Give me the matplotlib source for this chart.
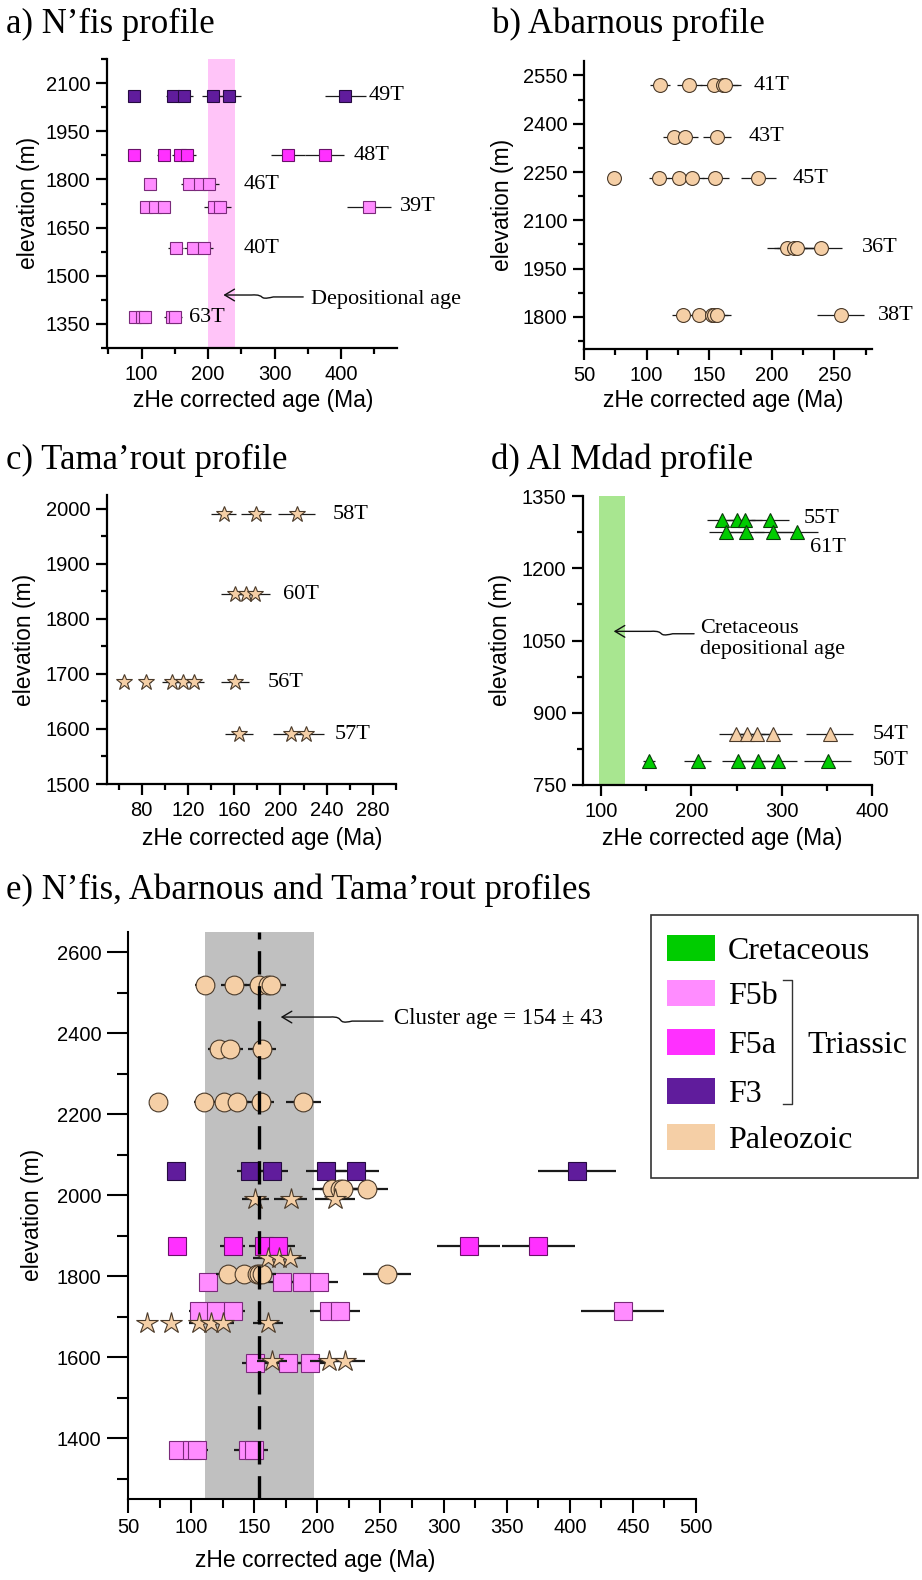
import numpy as np
import matplotlib
matplotlib.use('Agg')
import matplotlib.pyplot as plt
from matplotlib.ticker import MultipleLocator
from matplotlib.patches import Rectangle, FancyArrowPatch
from matplotlib.path import Path
from matplotlib.lines import Line2D

plt.rcParams['font.family'] = ['Liberation Sans', 'DejaVu Sans']
SERIF = ['Liberation Serif', 'DejaVu Serif']

W, H = 922.0, 1580.0

# colours of the units
UNIT_FILL = {'Cretaceous': '#00cc00', 'F5b': '#ff8cff', 'F5a': '#ff30ff',
             'F3': '#601c9c', 'Paleozoic': '#f5cfa6'}
UNIT_EDGE = {'Cretaceous': '#0b3d0b', 'F5b': '#7a2a7a', 'F5a': '#6a106a',
             'F3': '#250a40', 'Paleozoic': '#4a3a2a'}

# ---- a) N'fis profile (squares)
nfis_samples = ['49T', '48T', '46T', '39T', '40T', '63T']
nfis_elev = [2060, 1875, 1785, 1715, 1585, 1370]
nfis_unit = ['F3', 'F5a', 'F5b', 'F5b', 'F5b', 'F5b']
nfis_age = [
    [88, 147, 164, 207, 231, 406],
    [89, 133, 158, 169, 320, 375],
    [113, 172, 188, 201],
    [106, 120, 133, 209, 218, 442],
    [151, 177, 194],
    [90, 101, 105, 145, 150],
]
nfis_err = [
    [5, 11, 13, 16, 18, 31],
    [5, 10, 12, 13, 25, 29],
    [6, 13, 14, 15],
    [8, 9, 10, 15, 16, 33],
    [11, 13, 14],
    [7, 8, 8, 11, 11],
]
depositional_band = (200, 240)

# ---- b) Abarnous profile (circles)
abar_samples = ['41T', '43T', '45T', '36T', '38T']
abar_elev = [2520, 2360, 2230, 2015, 1805]
abar_unit = ['Paleozoic'] * 5
abar_age = [
    [111, 134, 154, 161, 163],
    [122, 131, 156],
    [74, 110, 126, 136, 155, 189],
    [212, 218, 220, 239],
    [129, 142, 152, 154, 156, 255],
]
abar_err = [
    [8, 10, 11, 12, 12],
    [9, 10, 11],
    [4, 8, 9, 10, 11, 14],
    [16, 16, 16, 17],
    [9, 10, 11, 11, 11, 19],
]

# ---- c) Tama'rout profile (stars)
tama_samples = ['58T', '60T', '56T', '57T']
tama_elev = [1990, 1845, 1685, 1590]
tama_unit = ['Paleozoic'] * 4
tama_age = [
    [151, 179, 214],
    [161, 170, 178],
    [65, 84, 106, 116, 125, 161],
    [164, 209, 222],
]
tama_err = [
    [11, 13, 16],
    [12, 12, 13],
    [3, 4, 8, 9, 9, 12],
    [12, 15, 16],
]

# ---- d) Al Mdad profile (triangles)
mdad_samples = ['55T', '61T', '54T', '50T']
mdad_elev = [1300, 1275, 855, 800]
mdad_unit = ['Cretaceous', 'Cretaceous', 'Paleozoic', 'Cretaceous']
mdad_age = [
    [234, 251, 259, 287],
    [238, 261, 290, 317],
    [249, 262, 273, 290, 353],
    [153, 207, 252, 274, 296, 351],
]
mdad_err = [
    [17, 19, 19, 21],
    [18, 19, 21, 23],
    [18, 19, 20, 21, 26],
    [7, 15, 18, 20, 21, 26],
]
cretaceous_band = (98, 126)

# ---- e) cluster age
cluster_age = 154
cluster_err = 43

legend_units = ['Cretaceous', 'F5b', 'F5a', 'F3', 'Paleozoic']


def fx(x):
    return x / W


def fy(y):
    return 1 - y / H


fig = plt.figure(figsize=(9.22, 15.8), dpi=100)


def add_ax(left, top, right, bottom):
    return fig.add_axes([fx(left), fy(bottom), (right - left) / W, (bottom - top) / H])


def style(ax, xlim, ylim, xmaj, xmin, ymaj, ymin, lw=1.6, fs=14.5,
          xlen=(8, 4), ylen=(8, 4)):
    ax.set_xlim(*xlim)
    ax.set_ylim(*ylim)
    for s in ('top', 'right'):
        ax.spines[s].set_visible(False)
    for s in ('left', 'bottom'):
        ax.spines[s].set_linewidth(lw)
    ax.xaxis.set_major_locator(MultipleLocator(xmaj))
    ax.xaxis.set_minor_locator(MultipleLocator(xmin))
    ax.yaxis.set_major_locator(MultipleLocator(ymaj))
    ax.yaxis.set_minor_locator(MultipleLocator(ymin))
    ax.tick_params(which='both', direction='out', width=lw, labelsize=fs, pad=4)
    ax.tick_params(axis='x', which='major', length=xlen[0])
    ax.tick_params(axis='x', which='minor', length=xlen[1])
    ax.tick_params(axis='y', which='major', length=ylen[0])
    ax.tick_params(axis='y', which='minor', length=ylen[1])


def plot_profile(ax, ages, errs, elevs, units, marker, ms, elw, zo):
    for a, e, z, u in zip(ages, errs, elevs, units):
        yy = np.full(len(a), z, dtype=float)
        ax.errorbar(a, yy, xerr=e, fmt='none', ecolor='#1a1a1a',
                    elinewidth=elw, capsize=0, zorder=zo)
        ax.plot(a, yy, ls='none', marker=marker, ms=ms, mfc=UNIT_FILL[u],
                mec=UNIT_EDGE[u], mew=0.8, zorder=zo + 0.5)


def sample_labels(ax, names, elevs, xs, ys=None, fs=16):
    for i, (n, z, x) in enumerate(zip(names, elevs, xs)):
        yy = z if ys is None or ys[i] is None else ys[i]
        ax.text(x, yy, n, family=SERIF, fontsize=fs, ha='left', va='center',
                clip_on=False)


def squiggle(ax, start, tip, xm, lw=1.0):
    p0 = ax.transData.transform(start)
    p1 = ax.transData.transform(tip)
    xmid = ax.transData.transform((xm, start[1]))[0]
    y0, y1 = p0[1], p1[1]
    verts = [p0, (xmid + 12, y0), (xmid - 5, y0 - 4), (xmid + 6, y1 + 1),
             (xmid - 10, y1), p1]
    codes = [Path.MOVETO, Path.LINETO, Path.CURVE4, Path.CURVE4, Path.CURVE4,
             Path.LINETO]
    vf = fig.transFigure.inverted().transform(verts)
    arr = FancyArrowPatch(path=Path(vf, codes), arrowstyle='->,head_length=0.5,head_width=0.3',
                          mutation_scale=14, lw=lw, color='#111111',
                          transform=fig.transFigure)
    fig.add_artist(arr)


def axis_labels(ax, xpos, ypos):
    fig.text(fx(xpos[0]), fy(xpos[1]), 'zHe corrected age (Ma)', fontsize=16.5,
             ha='center', va='center')
    fig.text(fx(ypos[0]), fy(ypos[1]), 'elevation (m)', fontsize=16.5,
             ha='center', va='center', rotation=90)


# ---------------- a)
axa = add_ax(107, 59, 397, 348)
style(axa, (48, 484), (1275, 2175), 100, 50, 150, 75)
axa.axvspan(*depositional_band, color='#ffc4f8', lw=0, zorder=0)
plot_profile(axa, nfis_age, nfis_err, nfis_elev, nfis_unit, 's', 9, 0.9, 3)
sample_labels(axa, nfis_samples, nfis_elev, [442, 419, 253, 489, 253, 172])
axa.text(354, 1427, 'Depositional age', family=SERIF, fontsize=16, ha='left',
         va='center', clip_on=False)
squiggle(axa, (343, 1434), (223, 1440), 280)
axis_labels(axa, (253, 401), (28, 203))
fig.text(fx(6), fy(33), 'a) N\u2019fis profile', family=SERIF, fontsize=25)

# ---------------- b)
axb = add_ax(584, 61, 872, 349)
style(axb, (50, 280), (1700, 2595), 50, 25, 150, 75)
plot_profile(axb, abar_age, abar_err, abar_elev, abar_unit, 'o', 10, 0.9, 3)
sample_labels(axb, abar_samples, abar_elev, [185.5, 181.5, 217, 271.6, 285])
axis_labels(axb, (723, 401), (502, 205))
fig.text(fx(492), fy(33), 'b) Abarnous profile', family=SERIF, fontsize=25)

# ---------------- c)
axc = add_ax(107, 495, 396, 784)
style(axc, (50, 300), (1500, 2025), 40, 20, 100, 50)
plot_profile(axc, tama_age, tama_err, tama_elev, tama_unit, '*', 12, 0.9, 3)
sample_labels(axc, tama_samples, tama_elev, [245.5, 202, 189, 247])
axis_labels(axc, (262, 838), (24, 640))
fig.text(fx(6), fy(469), 'c) Tama\u2019rout profile', family=SERIF, fontsize=25)

# ---------------- d)
axd = add_ax(583, 496, 872, 785)
style(axd, (80, 400), (750, 1350), 100, 50, 150, 75)
axd.axvspan(*cretaceous_band, color='#a8e690', lw=0, zorder=0)
plot_profile(axd, mdad_age, mdad_err, mdad_elev, mdad_unit, '^', 10, 0.9, 3)
sample_labels(axd, mdad_samples, mdad_elev, [324, 331.5, 401, 401],
              ys=[1304, 1244, None, None])
axd.text(210, 1053, 'Cretaceous\ndepositional age', family=SERIF, fontsize=16,
         ha='left', va='center', linespacing=1.15)
squiggle(axd, (203, 1064), (114, 1069), 166)
axis_labels(axd, (722, 838), (501, 640))
fig.text(fx(491), fy(469), 'd) Al Mdad profile', family=SERIF, fontsize=25)

# ---------------- e)
axe = add_ax(128, 932, 696, 1499)
style(axe, (50, 500), (1250, 2650), 50, 25, 200, 100, lw=1.5, fs=14.5,
      xlen=(10, 6.5), ylen=(15, 8))
axe.axvspan(cluster_age - cluster_err, cluster_age + cluster_err,
            color='#c0c0c0', lw=0, zorder=0)
axe.axvline(cluster_age, color='k', lw=2.4, dashes=(7, 3.5), zorder=10)
plot_profile(axe, nfis_age, nfis_err, nfis_elev, nfis_unit, 's', 13, 1.6, 3)
plot_profile(axe, abar_age, abar_err, abar_elev, abar_unit, 'o', 13.5, 1.6, 4)
plot_profile(axe, tama_age, tama_err, tama_elev, tama_unit, '*', 16, 1.6, 5)
axe.text(261, 2436, 'Cluster age = %d \u00b1 %d' % (cluster_age, cluster_err),
         family=SERIF, fontsize=16.5, ha='left', va='center')
squiggle(axe, (252, 2430), (171, 2440), 218)
axis_labels(axe, (315, 1560), (33, 1215))
fig.text(fx(6), fy(899), 'e) N\u2019fis, Abarnous and Tama\u2019rout profiles',
         family=SERIF, fontsize=25)

# legend of panel e (drawn by hand, with the Triassic bracket)
fig.add_artist(Rectangle((fx(651), fy(1178)), (918 - 651) / W, (1178 - 915) / H,
                         fill=False, ec='#333333', lw=1.2,
                         transform=fig.transFigure))
rows_y = [948, 993, 1042, 1091, 1137]
for u, yr in zip(legend_units, rows_y):
    fig.add_artist(Rectangle((fx(667), fy(yr + 13)), 48 / W, 26 / H,
                             fc=UNIT_FILL[u], ec='none',
                             transform=fig.transFigure))
    fig.text(fx(728), fy(yr), u, family=SERIF, fontsize=23, va='center_baseline')
fig.add_artist(Line2D([fx(783), fx(792), fx(792), fx(783)],
                      [fy(980), fy(980), fy(1104), fy(1104)],
                      color='#333333', lw=1.0, transform=fig.transFigure))
fig.text(fx(807), fy(1042), 'Triassic', family=SERIF, fontsize=23,
         va='center_baseline')

fig.savefig('out.png', dpi=100)
